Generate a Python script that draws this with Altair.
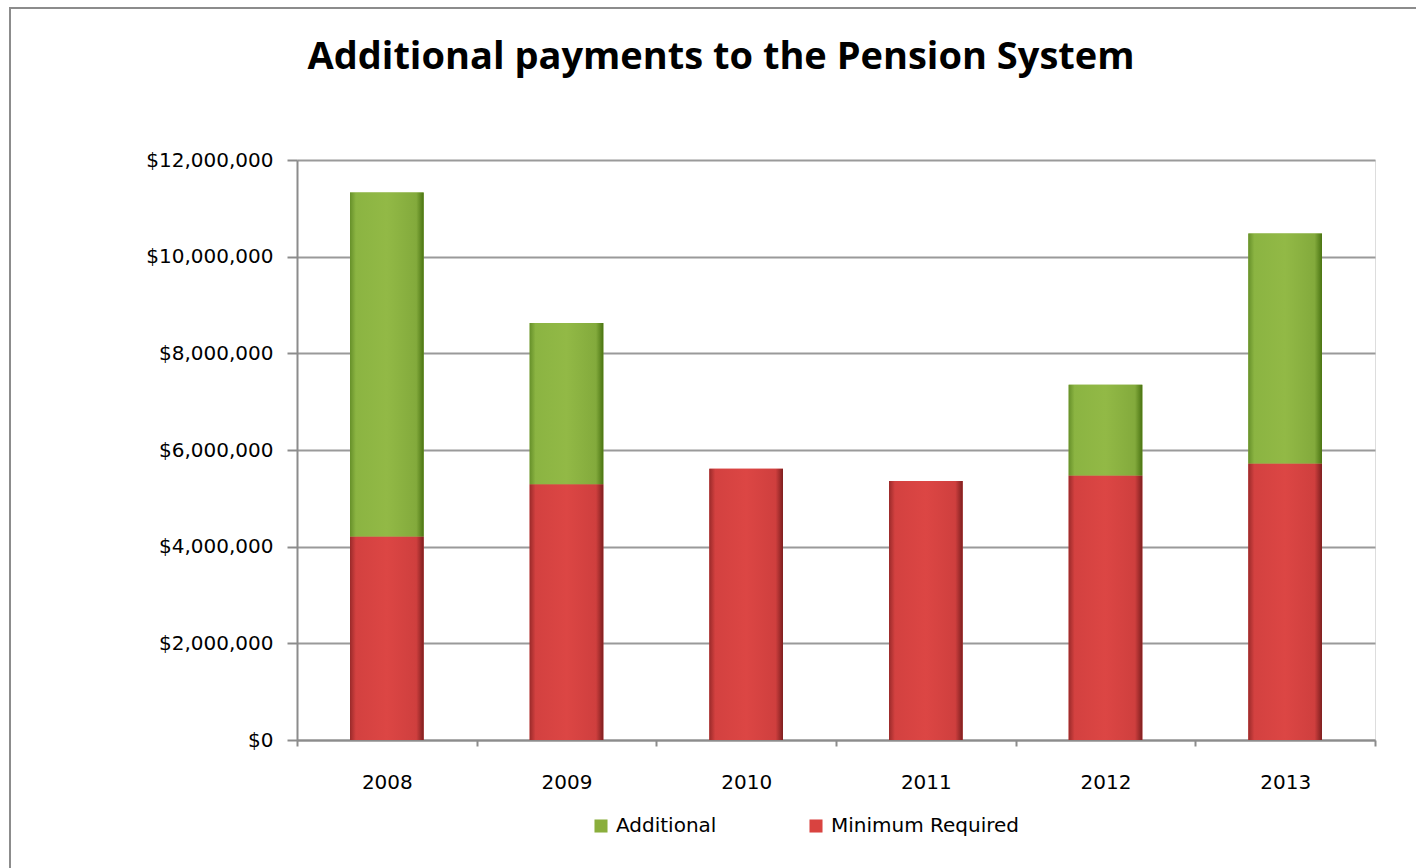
import altair as alt
import pandas as pd

years = ["2008", "2009", "2010", "2011", "2012", "2013"]
minimum_required = [4210000, 5290000, 5610000, 5360000, 5470000, 5720000]
additional = [7120000, 3340000, 0, 0, 1880000, 4760000]
title_text = "Additional payments to the Pension System"

rows = []
for y, m, a in zip(years, minimum_required, additional):
    rows.append({"Year": y, "Series": "Minimum Required", "Value": m, "ord": 0,
                 "lo": 0, "hi": m})
    rows.append({"Year": y, "Series": "Additional", "Value": a, "ord": 1,
                 "lo": m, "hi": m + a})
df = pd.DataFrame(rows)

W, H = 1078, 580
PL, PT = 297, 160

border = alt.Chart(pd.DataFrame({"a": [0]})).mark_rect(
    fill=None, stroke="#8c8c8c", strokeWidth=2
).encode(
    x=alt.value(10 - PL), x2=alt.value(1416 - PL + 20),
    y=alt.value(8 - PT), y2=alt.value(868 - PT + 20),
)

title = alt.Chart(pd.DataFrame({"t": [title_text]})).mark_text(
    font="Open Sans", fontSize=38, fontWeight="bold", color="#000000",
    align="center", baseline="middle"
).encode(
    text="t:N", x=alt.value(721 - PL), y=alt.value(58 - PT)
)

xenc = alt.X("Year:N", title=None,
             scale=alt.Scale(paddingInner=0, paddingOuter=0),
             axis=alt.Axis(labelAngle=0, labelFontSize=20, labelColor="#000000",
                           labelFont="DejaVu Sans", labelPadding=26,
                           tickBand="extent", tickSize=6, tickColor="#8c8c8c",
                           tickWidth=2, domainColor="#8c8c8c", domainWidth=2,
                           grid=False))

bars = alt.Chart(df).mark_bar(
    width=alt.RelativeBandSize(0.41)
).encode(
    x=xenc,
    y=alt.Y("Value:Q", title=None, stack="zero",
            scale=alt.Scale(domain=[0, 12000000], nice=False),
            axis=alt.Axis(values=[0, 2000000, 4000000, 6000000, 8000000, 10000000, 12000000],
                          format="$,.0f", labelFontSize=20, labelColor="#000000",
                          labelFont="DejaVu Sans", labelPadding=14,
                          tickSize=10, tickColor="#8c8c8c", tickWidth=2,
                          domainColor="#8c8c8c", domainWidth=2,
                          gridColor="#9a9a9a", gridWidth=2)),
    color=alt.Color("Series:N",
                    scale=alt.Scale(domain=["Additional", "Minimum Required"],
                                    range=["#8aae3c", "#d94340"]),
                    legend=alt.Legend(title=None, orient="none", direction="horizontal",
                                      legendX=591 - PL, legendY=816 - PT,
                                      symbolType="square", symbolSize=170,
                                      symbolStrokeWidth=0, labelLimit=0,
                                      labelFontSize=20, labelFont="DejaVu Sans",
                                      labelColor="#000000", columnPadding=89,
                                      labelOffset=5)),
    order=alt.Order("ord:Q"),
)

red_grad = alt.LinearGradient(
    gradient="linear", x1=0, x2=1, y1=0, y2=0,
    stops=[alt.GradientStop(color="#9a2a2a", offset=0),
           alt.GradientStop(color="#d34140", offset=0.08),
           alt.GradientStop(color="#dc4644", offset=0.5),
           alt.GradientStop(color="#cf3f3e", offset=0.9),
           alt.GradientStop(color="#7e1f1f", offset=1)])
green_grad = alt.LinearGradient(
    gradient="linear", x1=0, x2=1, y1=0, y2=0,
    stops=[alt.GradientStop(color="#66902a", offset=0),
           alt.GradientStop(color="#8bb442", offset=0.08),
           alt.GradientStop(color="#92b946", offset=0.5),
           alt.GradientStop(color="#83aa3c", offset=0.9),
           alt.GradientStop(color="#4a7412", offset=1)])

over_red = alt.Chart(df).transform_filter(
    (alt.datum.Series == "Minimum Required") & (alt.datum.Value > 0)
).mark_bar(width=alt.RelativeBandSize(0.41), color=red_grad).encode(
    x=alt.X("Year:N"), y=alt.Y("lo:Q"), y2="hi:Q"
)
over_green = alt.Chart(df).transform_filter(
    (alt.datum.Series == "Additional") & (alt.datum.Value > 0)
).mark_bar(width=alt.RelativeBandSize(0.41), color=green_grad).encode(
    x=alt.X("Year:N"), y=alt.Y("lo:Q"), y2="hi:Q"
)

chart = alt.layer(border, title, bars, over_red, over_green).properties(
    width=W, height=H,
    padding={"left": PL, "top": PT, "right": 1416 - PL - W, "bottom": 868 - PT - H},
    autosize=alt.AutoSizeParams(type="none"),
).configure_view(stroke=None).configure(background="#ffffff")

chart.save("out.html", embed_options={"renderer": "svg", "actions": False})
